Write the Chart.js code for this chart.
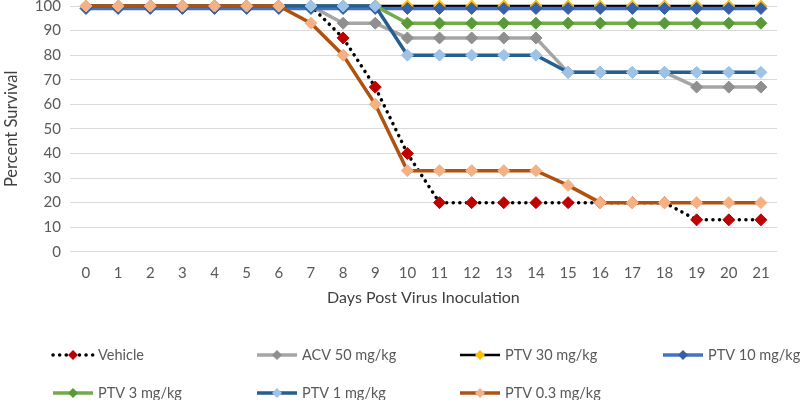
<!DOCTYPE html>
<html>
<head>
<meta charset="utf-8">
<script src="https://cdn.jsdelivr.net/npm/chart.js@4/dist/chart.umd.min.js"></script>
<style>
  html, body { margin: 0; padding: 0; background: #ffffff; }
  #wrap { width: 800px; height: 400px; }
</style>
</head>
<body>
<div id="wrap"><canvas id="survival"></canvas></div>
<script>
// days post virus inoculation
const days = ["0","1","2","3","4","5","6","7","8","9","10","11","12","13","14","15","16","17","18","19","20","21"];

// percent survival per group
const vehicle = [100,100,100,100,100,100,100,100,87,67,40,20,20,20,20,20,20,20,20,13,13,13];
const acv50   = [100,100,100,100,100,100,100,100,93,93,87,87,87,87,87,73,73,73,73,67,67,67];
const ptv30   = [100,100,100,100,100,100,100,100,100,100,100,100,100,100,100,100,100,100,100,100,100,100];
const ptv10   = [99,99,99,99,99,99,99,99,99,99,99,99,99,99,99,99,99,99,99,99,99,99];
const ptv3    = [100,100,100,100,100,100,100,100,100,100,93,93,93,93,93,93,93,93,93,93,93,93];
const ptv1    = [100,100,100,100,100,100,100,100,100,100,80,80,80,80,80,73,73,73,73,73,73,73];
const ptv03   = [100,100,100,100,100,100,100,93,80,60,33,33,33,33,33,27,20,20,20,20,20,20];

const groupNames = ["Vehicle","ACV 50 mg/kg","PTV 30 mg/kg","PTV 10 mg/kg","PTV 3 mg/kg","PTV 1 mg/kg","PTV 0.3 mg/kg"];
const groupData = [vehicle, acv50, ptv30, ptv10, ptv3, ptv1, ptv03];
const lineColors = ["#000000","#a5a5a5","#000000","#4472c4","#70ad47","#255e91","#b0520f"];
const markerColors = ["#c00000","#8f8f8f","#ffc000","#3760a8","#5a9a36","#9dc3e6","#f4b183"];
const lineWidths = [3.5, 3.5, 2.5, 3.5, 3.5, 3.5, 3.5];

const FONT = "Lato, 'Open Sans', sans-serif";

// excel style legend: fixed columns under the plot
const plugin_leyenda_columnas = {
  id: "leyendaColumnas",
  afterDraw: (chart) => {
    const ctx = chart.ctx;
    const colX = [53, 257, 460, 663];
    const rowY = [355, 393];
    chart.data.datasets.forEach((ds, i) => {
      const x0 = colX[i % 4];
      const y = rowY[Math.floor(i / 4)];
      ctx.save();
      ctx.strokeStyle = ds.borderColor;
      ctx.lineWidth = ds.borderWidth;
      ctx.lineCap = ds.borderCapStyle || "butt";
      ctx.setLineDash(ds.borderDash || []);
      ctx.beginPath();
      ctx.moveTo(x0, y);
      ctx.lineTo(x0 + 40, y);
      ctx.stroke();
      ctx.setLineDash([]);
      // diamond marker
      ctx.fillStyle = ds.pointBackgroundColor;
      ctx.beginPath();
      ctx.moveTo(x0 + 20, y - 5);
      ctx.lineTo(x0 + 25, y);
      ctx.lineTo(x0 + 20, y + 5);
      ctx.lineTo(x0 + 15, y);
      ctx.closePath();
      ctx.fill();
      ctx.fillStyle = "#595959";
      ctx.font = "14.5px " + FONT;
      ctx.textBaseline = "middle";
      ctx.textAlign = "left";
      ctx.fillText(ds.label, x0 + 45, y);
      ctx.restore();
    });
  },
};

const datasets = groupNames.map((name, i) => {
  const isVehicle = i === 0;
  return {
    label: name,
    data: groupData[i],
    borderColor: lineColors[i],
    borderWidth: lineWidths[i],
    borderDash: isVehicle ? [0.1, 6.5] : [],
    borderCapStyle: isVehicle ? "round" : "butt",
    pointStyle: "rectRot",
    pointRadius: 6,
    pointHoverRadius: 6,
    pointBackgroundColor: markerColors[i],
    pointBorderColor: markerColors[i],
    pointBorderWidth: 1,
    tension: 0,
    fill: false,
    clip: false,
    order: groupNames.length - i, // later series on top, like excel
  };
});

const ctx = document.getElementById("survival").getContext("2d");
const chart_supervivencia = new Chart(ctx, {
  type: "line",
  data: { labels: days, datasets: datasets },
  options: {
    responsive: true,
    maintainAspectRatio: false,
    animation: false,
    layout: { autoPadding: false, padding: { top: 6, right: 23, bottom: 93, left: 2 } },
    plugins: {
      legend: { display: false },
      tooltip: { enabled: false },
    },
    scales: {
      x: {
        offset: true,
        grid: { display: false, drawTicks: false },
        border: { display: false },
        ticks: { color: "#595959", font: { family: FONT, size: 15 }, padding: 12, maxRotation: 0, autoSkip: false },
        title: { display: true, text: "Days Post Virus Inoculation", color: "#404040", font: { family: FONT, size: 16 }, padding: { top: -6, bottom: 0 } },
      },
      y: {
        min: 0,
        max: 100,
        afterFit: (scale) => {
          // top label may overhang like in the original
          scale.paddingTop = 0;
          scale.paddingBottom = 0;
        },
        grid: { color: "#d9d9d9", lineWidth: 1, drawTicks: false },
        border: { display: false },
        ticks: { stepSize: 10, color: "#595959", font: { family: FONT, size: 15 }, padding: 9 },
        title: { display: true, text: "Percent Survival", color: "#404040", font: { family: FONT, size: 16.5 }, padding: { top: 0, bottom: 4 } },
      },
    },
  },
  plugins: [plugin_leyenda_columnas],
});
</script>
</body>
</html>
